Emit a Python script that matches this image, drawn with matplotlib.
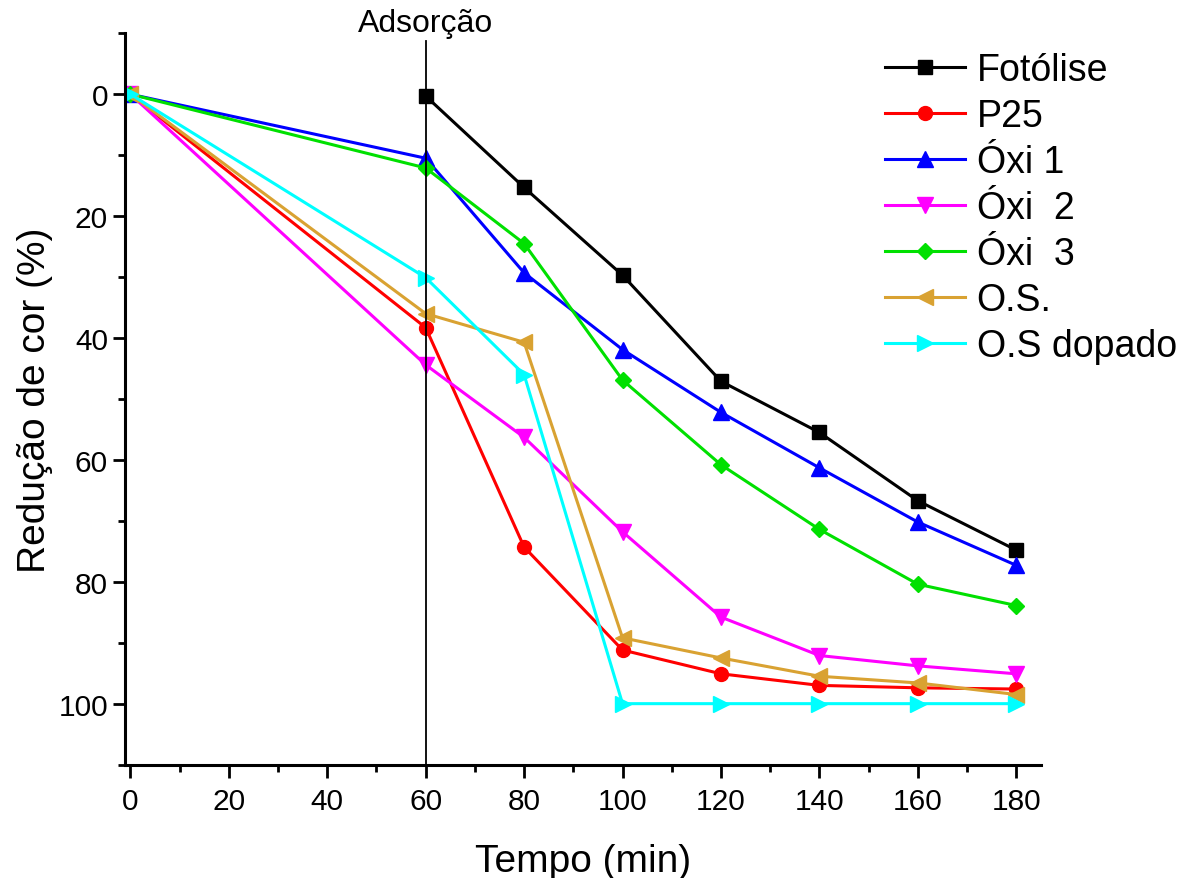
import numpy as np
import matplotlib.pyplot as plt
from matplotlib.ticker import MultipleLocator
from matplotlib.transforms import blended_transform_factory

plt.rcParams['font.family'] = ['Liberation Sans', 'DejaVu Sans']

# time points (min)
t = [0, 60, 80, 100, 120, 140, 160, 180]
t_foto = [60, 80, 100, 120, 140, 160, 180]

# color reduction (%)
fotolise = [0.3, 15.3, 29.7, 47.1, 55.5, 66.7, 74.8]
p25 = [0, 38.3, 74.3, 91.2, 95.1, 97.0, 97.4, 97.6]
oxi1 = [0, 10.5, 29.3, 41.9, 52.2, 61.3, 70.2, 77.3]
oxi2 = [0, 44.4, 56.3, 71.8, 85.8, 92.1, 93.8, 95.1]
oxi3 = [0, 12.1, 24.5, 46.9, 60.8, 71.4, 80.4, 83.9]
os_ = [0, 36.0, 40.7, 89.2, 92.5, 95.5, 96.6, 98.5]
os_dop = [0, 30.1, 46.0, 100, 100, 100, 100, 100]

series = [
    (t_foto, fotolise, 'Fotólise', 'black', 's', 9.5),
    (t, p25, 'P25', '#ff0000', 'o', 10),
    (t, oxi1, 'Óxi 1', '#0000ff', '^', 11),
    (t, oxi2, 'Óxi  2', '#ff00ff', 'v', 11),
    (t, oxi3, 'Óxi  3', '#00e000', 'D', 8.5),
    (t, os_, 'O.S.', '#d9a232', '<', 11),
    (t, os_dop, 'O.S dopado', '#00ffff', '>', 11),
]

fig = plt.figure(figsize=(11.95, 8.79), dpi=100)
ax = fig.add_axes([0.105, 0.129, 0.766, 0.832])

for x, y, name, c, m, ms in series:
    ax.plot(x, y, color=c, marker=m, markersize=ms, linewidth=2.2, label=name)

ax.axvline(60, ymax=0.99, color='black', linewidth=1.3)
trans = blended_transform_factory(ax.transData, ax.transAxes)
ax.text(60, 1.003, 'Adsorção', transform=trans, ha='center', va='baseline', fontsize=23)

ax.set_xlim(-1, 185)
ax.set_ylim(110, -10)
ax.xaxis.set_major_locator(MultipleLocator(20))
ax.xaxis.set_minor_locator(MultipleLocator(10))
ax.yaxis.set_major_locator(MultipleLocator(20))
ax.yaxis.set_minor_locator(MultipleLocator(10))
ax.set_yticks([0, 20, 40, 60, 80, 100])

for side in ['top', 'right']:
    ax.spines[side].set_visible(False)
for side in ['left', 'bottom']:
    ax.spines[side].set_linewidth(2.2)
ax.tick_params(which='major', length=9, width=2, labelsize=21.5, direction='out')
ax.tick_params(axis='x', which='major', pad=7)
ax.tick_params(which='minor', length=5, width=2, direction='out')

ax.set_xlabel('Tempo (min)', fontsize=28, labelpad=20)
ax.set_ylabel('Redução de cor (%)', fontsize=28, labelpad=4)

ax.legend(loc='upper left', bbox_to_anchor=(0.805, 1.005), frameon=False, fontsize=27,
          handlelength=2.15, handletextpad=0.3, labelspacing=0.265, borderaxespad=0.2)

fig.savefig('out.png', dpi=100)
